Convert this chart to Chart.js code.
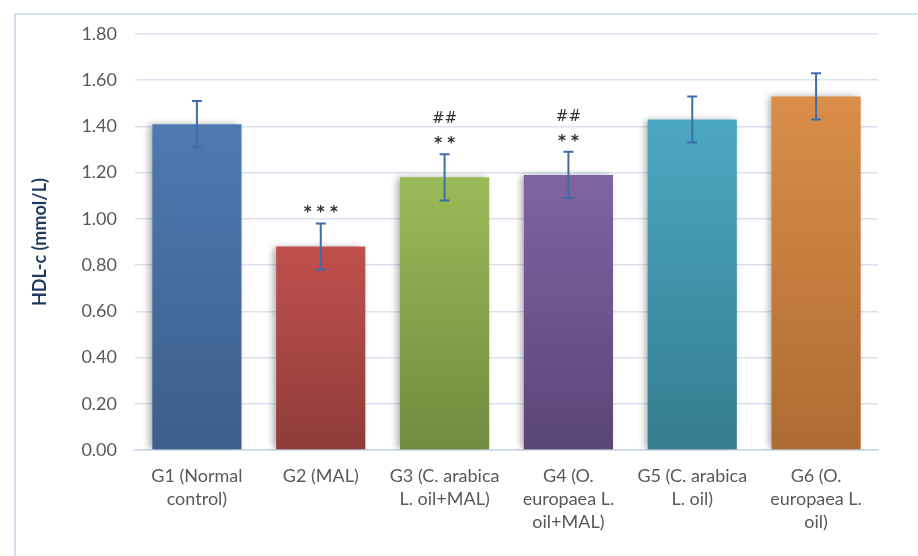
<!DOCTYPE html>
<html>
<head>
<meta charset="utf-8">
<script src="https://cdn.jsdelivr.net/npm/chart.js@4.4.1/dist/chart.umd.min.js"></script>
<style>
  html, body { margin: 0; padding: 0; background: #ffffff; }
  #wrap { width: 918px; height: 556px; position: relative; }
  canvas { display: block; }
</style>
</head>
<body>
<div id="wrap"><canvas id="hdlChart" width="918" height="556"></canvas></div>
<script>
// Groups (multi-line category labels)
const categories = [
  ['G1 (Normal', 'control)'],
  ['G2 (MAL)'],
  ['G3 (C. arabica', 'L. oil+MAL)'],
  ['G4 (O.', 'europaea L.', 'oil+MAL)'],
  ['G5 (C. arabica', 'L. oil)'],
  ['G6 (O.', 'europaea L.', 'oil)']
];
// HDL-c mean and standard deviation (mmol/L)
const hdlMean = [1.41, 0.88, 1.18, 1.19, 1.43, 1.53];
const hdlSD   = [0.10, 0.10, 0.10, 0.10, 0.10, 0.10];
// y-axis tick values
const yTickValues = [0.0, 0.2, 0.4, 0.6, 0.8, 1.0, 1.2, 1.4, 1.6, 1.8];
// significance marks: vs normal control (*) and vs MAL (#)
const sigVsControl = ['', '* * *', '* *', '* *', '', ''];
const sigVsMal     = ['', '', '##', '##', '', ''];

// bar gradient colours (top -> bottom)
const barTop    = ['#4E7AB1', '#C0504D', '#9BBB59', '#8064A2', '#4BA8C2', '#DA8E49'];
const barBottom = ['#3C5E8B', '#8F3C39', '#6F8C3E', '#5A4577', '#357C8E', '#AE6B32'];

const FONT = 'Lato, "Open Sans", sans-serif';
const MARK_FONT = '"DejaVu Sans", sans-serif';

const framePlugin = {
  id: 'frame',
  beforeDraw(chart) {
    const ctx = chart.ctx;
    ctx.save();
    ctx.strokeStyle = '#D3DFEE';
    ctx.lineWidth = 2;
    ctx.strokeRect(15, 14, 1000, 1000);
    ctx.restore();
  }
};

const shadowPlugin = {
  id: 'barShadow',
  beforeDatasetsDraw(chart) {
    const ctx = chart.ctx;
    ctx.save();
    ctx.shadowColor = 'rgba(0,0,0,0.35)';
    ctx.shadowBlur = 7;
    ctx.shadowOffsetX = -3;
    ctx.shadowOffsetY = 0;
  },
  afterDatasetsDraw(chart) {
    chart.ctx.restore();
  }
};

const errorBarPlugin = {
  id: 'errorBars',
  afterDatasetsDraw(chart) {
    const ctx = chart.ctx;
    const meta = chart.getDatasetMeta(0);
    const y = chart.scales.y;
    ctx.save();
    meta.data.forEach((bar, i) => {
      const x = bar.x;
      const top = y.getPixelForValue(hdlMean[i] + hdlSD[i]);
      const bot = y.getPixelForValue(hdlMean[i] - hdlSD[i]);
      ctx.strokeStyle = '#3D6EA8';
      ctx.lineWidth = 2;
      ctx.beginPath();
      ctx.moveTo(x, top); ctx.lineTo(x, bot);
      ctx.moveTo(x - 5, top); ctx.lineTo(x + 5, top);
      ctx.moveTo(x - 5, bot); ctx.lineTo(x + 5, bot);
      ctx.stroke();

      ctx.fillStyle = '#2E2E2E';
      ctx.textAlign = 'center';
      ctx.textBaseline = 'middle';
      if (sigVsControl[i]) {
        ctx.font = 'bold 15px ' + MARK_FONT;
        ctx.fillText(sigVsControl[i], x, top - 10);
      }
      if (sigVsMal[i]) {
        ctx.font = '15px ' + MARK_FONT;
        ctx.fillText(sigVsMal[i], x, top - 35);
      }
    });
    ctx.restore();
  }
};

new Chart(document.getElementById('hdlChart'), {
  type: 'bar',
  data: {
    labels: categories,
    datasets: [{
      data: hdlMean,
      backgroundColor(c) {
        const chart = c.chart;
        const i = c.dataIndex;
        if (!chart.chartArea || i === undefined) return barTop[i] || barTop[0];
        const y = chart.scales.y;
        const yt = y.getPixelForValue(hdlMean[i]);
        const yb = y.getPixelForValue(0);
        const g = chart.ctx.createLinearGradient(0, yt, 0, yb);
        g.addColorStop(0, barTop[i]);
        g.addColorStop(1, barBottom[i]);
        return g;
      },
      borderWidth: 0,
      barPercentage: 0.72,
      categoryPercentage: 1.0
    }]
  },
  options: {
    responsive: false,
    animation: false,
    layout: { padding: { left: 0, top: 34, right: 40, bottom: 0 } },
    plugins: {
      legend: { display: false },
      tooltip: { enabled: false },
      title: { display: false }
    },
    scales: {
      x: {
        grid: { display: false, drawTicks: false },
        border: { display: true, color: '#C8D5E6', width: 1.5 },
        ticks: {
          color: '#595959',
          font: { family: FONT, size: 18, lineHeight: 1.3 },
          padding: 14,
          maxRotation: 0,
          minRotation: 0,
          autoSkip: false
        },
        afterFit(s) { s.height = 106; }
      },
      y: {
        min: 0,
        max: 1.8,
        afterBuildTicks(s) { s.ticks = yTickValues.map(v => ({ value: v })); },
        grid: { color: '#D9E2EE', lineWidth: 1.5, drawTicks: false },
        border: { display: false },
        ticks: {
          color: '#595959',
          font: { family: FONT, size: 18 },
          padding: 18,
          callback: v => Number(v).toFixed(2)
        },
        title: {
          display: true,
          text: 'HDL-c (mmol/L)',
          color: '#1F3A5F',
          font: { family: FONT, size: 18, weight: 'bold' },
          padding: { top: 29, bottom: 0 }
        },
        afterFit(s) { s.width = 135; }
      }
    }
  },
  plugins: [framePlugin, shadowPlugin, errorBarPlugin]
});
</script>
</body>
</html>
